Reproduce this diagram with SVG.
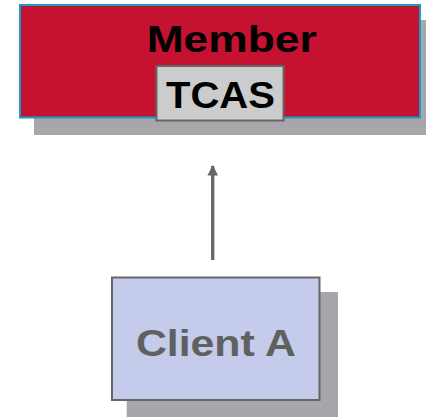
<svg xmlns="http://www.w3.org/2000/svg" width="426" height="417" viewBox="0 0 426 417">
  <style>
    .shadow { fill: #a7a7ab; }
    .lbl { font-family: "Liberation Sans", Arial, Helvetica, sans-serif; font-weight: bold; font-size: 37px; text-anchor: middle; }
  </style>
  <defs>
    <marker id="arrow" viewBox="0 0 10 10" refX="9" refY="5" markerWidth="3.2" markerHeight="3.2" orient="auto" markerUnits="strokeWidth">
      <path d="M0,0 L10,5 L0,10 Z" fill="#666666"/>
    </marker>
  </defs>

  <g id="connectors">
    <line x1="212.7" y1="260" x2="212.7" y2="166" stroke="#666666" stroke-width="3.3" marker-end="url(#arrow)"/>
  </g>

  <g id="member">
    <rect class="shadow" x="34" y="20" width="392" height="115"/>
    <rect x="20" y="5" width="400" height="112.5" fill="#c41230" stroke="#1a9cc8" stroke-width="2"/>
    <text class="lbl" x="231.7" y="51.7" fill="#000000" textLength="170" lengthAdjust="spacingAndGlyphs">Member</text>
  </g>

  <g id="tcas">
    <rect x="156.5" y="66" width="127" height="54.5" fill="#cccccc" stroke="#666666" stroke-width="2"/>
    <text class="lbl" x="220.5" y="107.7" fill="#000000" textLength="109" lengthAdjust="spacingAndGlyphs">TCAS</text>
  </g>

  <g id="client-a">
    <rect class="shadow" x="126.7" y="292" width="211.3" height="125"/>
    <rect x="112" y="277.5" width="207.5" height="122.5" fill="#c5cbea" stroke="#666666" stroke-width="2"/>
    <text class="lbl" x="215.9" y="355.7" fill="#606060" textLength="160" lengthAdjust="spacingAndGlyphs">Client A</text>
  </g>
</svg>
